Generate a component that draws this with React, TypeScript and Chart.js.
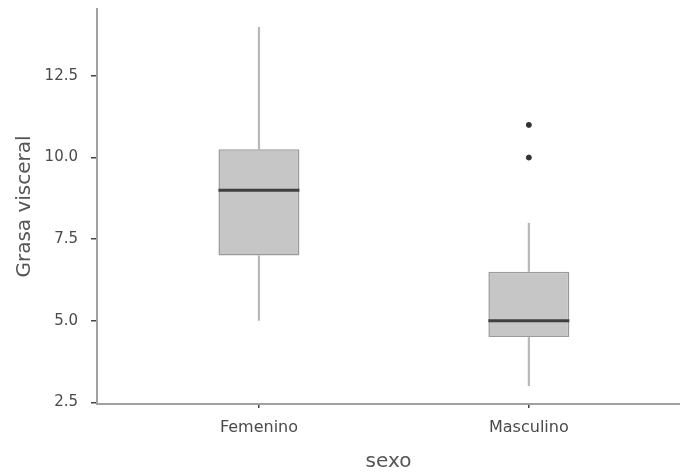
import React, { useEffect, useRef } from "react";
import { Chart, registerables } from "chart.js";

Chart.register(...registerables);

const categories = ["Femenino", "Masculino"];
const whiskerLow = [5, 3];
const q1 = [7, 4.5];
const median = [9, 5];
const q3 = [10.25, 6.5];
const whiskerHigh = [14, 8];
const outliers: number[][] = [[], [10, 11]];
const yTicks = [2.5, 5, 7.5, 10, 12.5];
const xTitle = "sexo";
const yTitle = "Grasa visceral";

const BOX_HALF = 0.15;

export default function App() {
  const ref = useRef<HTMLCanvasElement | null>(null);
  useEffect(() => {
    if (!ref.current) return;
    const pos = categories.map((_, i) => i + 1);
    const datasets: any[] = [];
    datasets.push({
      type: "bar",
      data: pos.map((x, i) => ({ x, y: [q1[i], q3[i]] })),
      backgroundColor: "#c6c6c6",
      borderColor: "#9a9a9a",
      borderWidth: 1.5,
      borderSkipped: false,
      barPercentage: 0.3,
      categoryPercentage: 1,
      order: 3,
    });
    pos.forEach((x, i) => {
      datasets.push({
        type: "line",
        data: [
          { x, y: whiskerLow[i] },
          { x, y: q1[i] },
        ],
        borderColor: "#b8b8b8",
        borderWidth: 2.2,
        pointRadius: 0,
        order: 4,
      });
      datasets.push({
        type: "line",
        data: [
          { x, y: q3[i] },
          { x, y: whiskerHigh[i] },
        ],
        borderColor: "#b8b8b8",
        borderWidth: 2.2,
        pointRadius: 0,
        order: 4,
      });
      datasets.push({
        type: "line",
        data: [
          { x: x - BOX_HALF, y: median[i] },
          { x: x + BOX_HALF, y: median[i] },
        ],
        borderColor: "#3f3f3f",
        borderWidth: 3,
        pointRadius: 0,
        order: 1,
      });
    });
    datasets.push({
      type: "scatter",
      data: outliers.flatMap((arr, i) => arr.map((v) => ({ x: pos[i], y: v }))),
      backgroundColor: "#333",
      borderColor: "#333",
      pointRadius: 2.5,
      order: 0,
    });

    const chart = new Chart(ref.current, {
      type: "bar",
      data: { datasets },
      options: {
        animation: false,
        responsive: true,
        maintainAspectRatio: false,
        layout: { padding: { top: 9, right: 0, bottom: 0, left: 0 }, autoPadding: false },
        plugins: { legend: { display: false }, tooltip: { enabled: false } },
        scales: {
          x: {
            type: "linear",
            offset: false,
            min: 0.4,
            max: 2.56,
            afterBuildTicks: (s: any) => {
              s.ticks = pos.map((v) => ({ value: v }));
            },
            afterFit: (s: any) => {
              s.height = 70;
              s.paddingLeft = 0;
              s.paddingRight = 0;
            },
            ticks: {
              callback: (v: any) => categories[Math.round(v) - 1] ?? "",
              font: { family: "DejaVu Sans", size: 16 },
              color: "#4a4a4a",
              padding: 10,
              maxRotation: 0,
              autoSkip: false,
            },
            grid: {
              display: true,
              offset: false,
              drawOnChartArea: false,
              drawTicks: true,
              tickLength: 4,
              color: "#444",
              lineWidth: 1.5,
            },
            border: { display: true, color: "#a0a0a0", width: 2 },
            title: {
              display: true,
              text: xTitle,
              font: { family: "DejaVu Sans", size: 20 },
              color: "#555",
              padding: { top: 0, bottom: 0 },
            },
          },
          y: {
            type: "linear",
            min: 2.45,
            max: 14.55,
            afterBuildTicks: (s: any) => {
              s.ticks = yTicks.map((v) => ({ value: v }));
            },
            afterFit: (s: any) => {
              s.width = 97;
              s.paddingTop = 0;
              s.paddingBottom = 0;
            },
            ticks: {
              callback: (v: any) => Number(v).toFixed(1),
              font: { family: "DejaVu Sans", size: 15 },
              color: "#4a4a4a",
              padding: 13,
            },
            grid: {
              display: true,
              drawOnChartArea: false,
              drawTicks: true,
              tickLength: 6,
              color: "#444",
              lineWidth: 1.5,
            },
            border: { display: true, color: "#a0a0a0", width: 2 },
            title: {
              display: true,
              text: yTitle,
              font: { family: "DejaVu Sans", size: 20 },
              color: "#555",
              padding: { top: 13, bottom: 0 },
            },
          },
        },
      },
    });
    return () => chart.destroy();
  }, []);

  return (
    <div style={{ position: "absolute", left: 0, top: 0, width: 680, height: 474, background: "#fff" }}>
      <canvas ref={ref} />
    </div>
  );
}
